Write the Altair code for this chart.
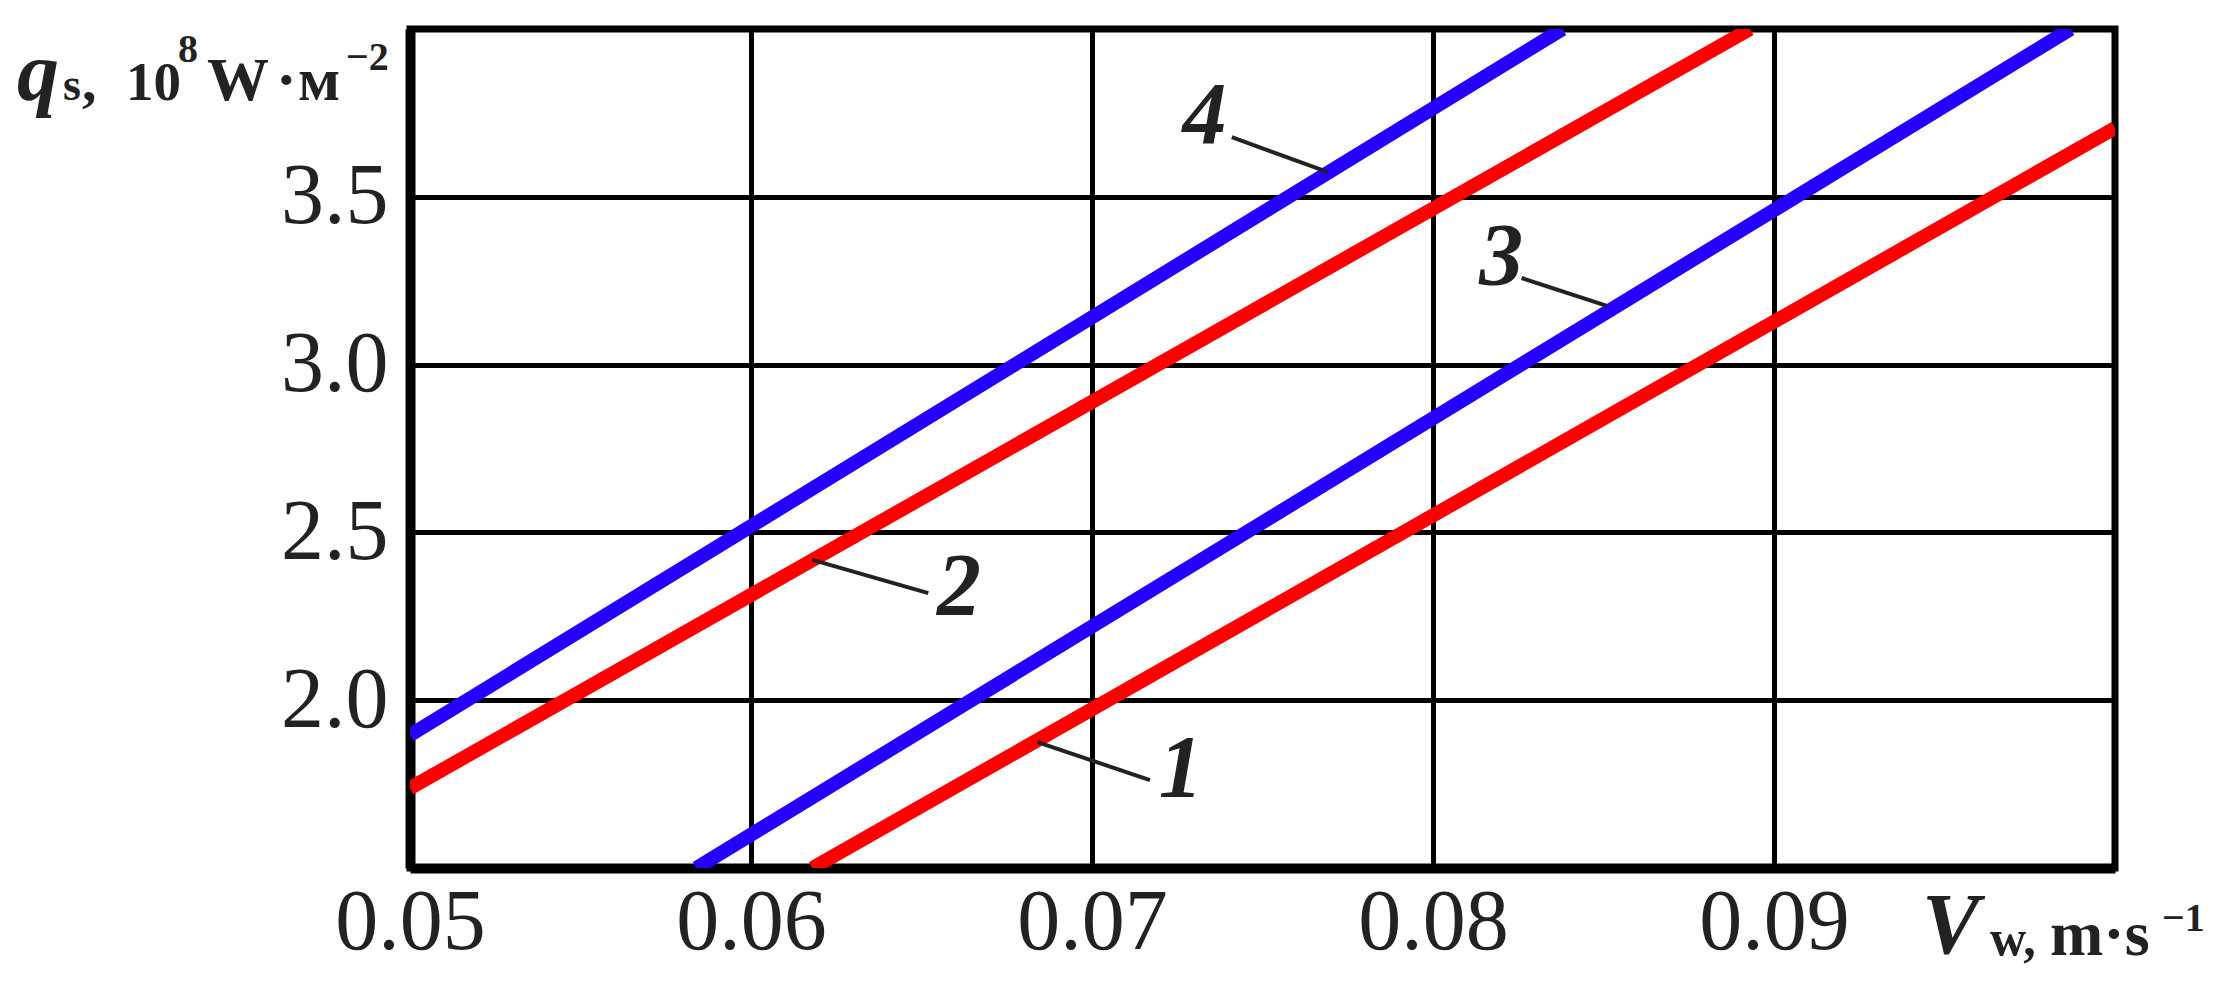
import altair as alt
import pandas as pd

# ---- data ----
curve_ids = ["1", "1", "2", "2", "3", "3", "4", "4"]
curve_v = [0.0618, 0.100, 0.050, 0.0893, 0.0584, 0.0987, 0.050, 0.0838]
curve_q = [1.5, 3.705, 1.738, 4.0, 1.5, 4.0, 1.896, 4.0]
curve_colour = {"1": "#ff0000", "2": "#ff0000", "3": "#2400ff", "4": "#2400ff"}

label_text = ["1", "2", "3", "4"]
label_v = [0.0726, 0.0661, 0.0820, 0.0733]
label_q = [1.792, 2.334, 3.318, 3.738]

leader_v1 = [0.0717, 0.0652, 0.0826, 0.0741]
leader_q1 = [1.762, 2.319, 3.258, 3.678]
leader_v2 = [0.0684, 0.0618, 0.0851, 0.0769]
leader_q2 = [1.875, 2.418, 3.175, 3.574]

x_ticks = [0.05, 0.06, 0.07, 0.08, 0.09]
y_ticks = [2.0, 2.5, 3.0, 3.5]
x_domain = [0.05, 0.10]
y_domain = [1.5, 4.0]

curves = pd.DataFrame({"id": curve_ids, "v": curve_v, "q": curve_q})
labels = pd.DataFrame({"t": label_text, "v": label_v, "q": label_q})
leaders = pd.DataFrame({"v": leader_v1, "q": leader_q1, "v2": leader_v2, "q2": leader_q2})
one = pd.DataFrame({"d": [0]})

SERIF = "Liberation Serif"

xs = alt.Scale(domain=x_domain, nice=False, zero=False)
ys = alt.Scale(domain=y_domain, nice=False, zero=False)

x_axis = alt.Axis(values=x_ticks, format=".2f", title=None, ticks=False,
                  labelPadding=12, labelFlush=False)
y_axis = alt.Axis(values=y_ticks, format=".1f", title=None, ticks=False,
                  labelPadding=22)

lines = alt.Chart(curves).mark_line(strokeWidth=14, clip=True).encode(
    x=alt.X("v:Q", scale=xs, axis=x_axis),
    y=alt.Y("q:Q", scale=ys, axis=y_axis),
    color=alt.Color("id:N", scale=alt.Scale(domain=list(curve_colour.keys()),
                                            range=list(curve_colour.values())),
                    legend=None),
    detail="id:N",
)

rules = alt.Chart(leaders).mark_rule(strokeWidth=4, color="#222222").encode(
    x=alt.X("v:Q", scale=xs), y=alt.Y("q:Q", scale=ys),
    x2="v2:Q", y2="q2:Q",
)

texts = alt.Chart(labels).mark_text(
    font=SERIF, fontSize=88, fontWeight="bold", fontStyle="italic",
    color="#222222", align="center", baseline="middle",
).encode(x=alt.X("v:Q", scale=xs), y=alt.Y("q:Q", scale=ys), text="t:N")


def piece(txt, x, y, size, weight="bold", style="normal"):
    return alt.Chart(one).mark_text(
        text=txt, font=SERIF, fontSize=size, fontWeight=weight, fontStyle=style,
        color="#222222", align="left", baseline="alphabetic",
    ).encode(x=alt.value(x), y=alt.value(y))


# y-axis title: q_s, 10^8 W·м^-2  (pixel offsets relative to plot origin)
y_title = [
    piece("q", -393, 71, 84, style="italic"),
    piece("s", -347, 71, 46),
    piece(",", -328, 71, 58),
    piece("10", -284, 71, 55),
    piece("8", -232, 33, 40),
    piece("W", -203, 71, 62),
    piece("·", -134, 71, 62),
    piece("м", -112, 71, 62),
    piece("\u22122", -64, 41, 40),
]
# x-axis title: V_w, m·s^-1
x_title = [
    piece("V", 1512, 924, 86, style="italic"),
    piece("w,", 1580, 926, 50),
    piece("m·s", 1640, 926, 64),
    piece("\u22121", 1752, 902, 40),
]

chart = alt.layer(lines, rules, texts, *y_title, *x_title).properties(
    width=1705, height=839,
    autosize=alt.AutoSizeParams(type="none"),
    padding={"left": 402, "top": 21, "right": 94, "bottom": 106},
    background="white",
).configure_view(
    stroke="black", strokeWidth=7,
).configure_axis(
    grid=True, gridColor="black", gridWidth=5, gridOpacity=1,
    domain=True, domainColor="black", domainWidth=10,
    labelFont=SERIF, labelFontSize=86, labelColor="#222222",
)

chart.save("out.html", embed_options={"renderer": "svg", "actions": False})
